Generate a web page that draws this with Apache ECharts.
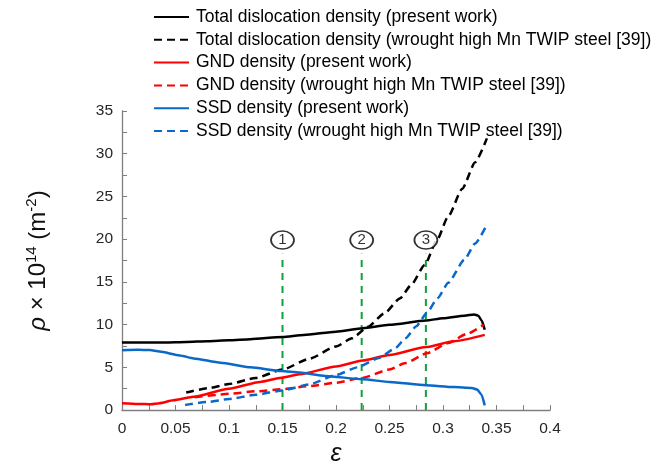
<!DOCTYPE html>
<html>
<head>
<meta charset="utf-8">
<title>Dislocation density vs strain</title>
<script src="https://cdn.jsdelivr.net/npm/echarts@6/dist/echarts.min.js"></script>
<style>
  html, body { margin: 0; padding: 0; background: #fff; }
  #chart { width: 654px; height: 472px; }
</style>
</head>
<body>
<div id="chart"></div>
<script>
// Strain (ε) vs dislocation density (ρ × 10^14 m^-2), pairs of [strain, density]
const totalPresent = [
  [0, 7.9], [0.02, 7.9], [0.04, 7.92], [0.06, 7.98], [0.08, 8.06], [0.1, 8.17],
  [0.12, 8.3], [0.15, 8.55], [0.17, 8.78], [0.2, 9.18], [0.225, 9.58], [0.25, 9.98],
  [0.284, 10.48], [0.3, 10.75], [0.32, 11.05], [0.329, 11.2], [0.333, 11.05],
  [0.336, 10.5], [0.339, 9.4]
];
const totalWrought = [
  [0.06, 2.05], [0.08, 2.55], [0.1, 3.05], [0.125, 3.75], [0.15, 4.75], [0.175, 6.0],
  [0.2, 7.45], [0.215, 8.4], [0.23, 9.75], [0.245, 11.3], [0.26, 13.1], [0.27, 14.6],
  [0.283, 17.0], [0.294, 19.8], [0.305, 22.7], [0.318, 25.9], [0.33, 29.0], [0.341, 31.8]
];
const gndPresent = [
  [0, 0.8], [0.015, 0.72], [0.027, 0.68], [0.035, 0.8], [0.048, 1.15], [0.067, 1.55],
  [0.1, 2.5], [0.129, 3.3], [0.149, 3.8], [0.166, 4.2], [0.2, 5.1], [0.225, 5.8],
  [0.25, 6.45], [0.284, 7.37], [0.31, 8.05], [0.339, 8.8]
];
const gndWrought = [
  [0.068, 1.5], [0.1, 1.9], [0.125, 2.2], [0.15, 2.45], [0.175, 2.8], [0.2, 3.2],
  [0.225, 3.8], [0.25, 4.75], [0.265, 5.5], [0.285, 6.65], [0.305, 7.85], [0.322, 8.9],
  [0.338, 10.0]
];
const ssdPresent = [
  [0, 7.0], [0.015, 7.05], [0.026, 7.02], [0.035, 6.85], [0.054, 6.4], [0.067, 6.05],
  [0.092, 5.55], [0.12, 5.0], [0.149, 4.57], [0.166, 4.4], [0.19, 4.0], [0.225, 3.6],
  [0.25, 3.3], [0.284, 2.9], [0.31, 2.7], [0.327, 2.6], [0.332, 2.4], [0.336, 1.8],
  [0.339, 0.55]
];
const ssdWrought = [
  [0.059, 0.6], [0.08, 0.95], [0.1, 1.3], [0.125, 1.8], [0.15, 2.3], [0.175, 3.0],
  [0.2, 4.1], [0.22, 5.0], [0.24, 6.1], [0.255, 7.2], [0.265, 8.4], [0.275, 9.8],
  [0.285, 11.4], [0.295, 13.1], [0.305, 14.9], [0.32, 17.6], [0.33, 19.5], [0.341, 21.7]
];

// Deformation stages marked by vertical guide lines
const stageStrain = [0.15, 0.224, 0.284];
const stageLabels = ['1', '2', '3'];
const stageLineTop = 18.3;
const stageBadgeY = 19.9;

const seriesNames = [
  'Total dislocation density (present work)',
  'Total dislocation density (wrought high Mn TWIP steel [39])',
  'GND density (present work)',
  'GND density (wrought high Mn TWIP steel [39])',
  'SSD density (present work)',
  'SSD density (wrought high Mn TWIP steel [39])'
];

const FONT = 'Liberation Sans, Arial, sans-serif';
const BLACK = '#000000', RED = '#ff0000', BLUE = '#0a68c8', GREEN = '#13a03a';
const DASH = [8, 5];

function curve(name, data, color, dashed) {
  return {
    name, type: 'line', data,
    showSymbol: false, symbol: 'none',
    smooth: 0.2, smoothMonotone: 'x',
    lineStyle: { color, width: 2.5, type: dashed ? DASH : 'solid', cap: 'butt' },
    itemStyle: { color },
    emphasis: { disabled: true },
    z: 3
  };
}

const series = [
  curve(seriesNames[0], totalPresent, BLACK, false),
  curve(seriesNames[1], totalWrought, BLACK, true),
  curve(seriesNames[2], gndPresent, RED, false),
  curve(seriesNames[3], gndWrought, RED, true),
  curve(seriesNames[4], ssdPresent, BLUE, false),
  curve(seriesNames[5], ssdWrought, BLUE, true)
];

stageStrain.forEach((s, i) => {
  series.push({
    name: 'stage' + (i + 1), type: 'line',
    data: [[s, 0], [s, stageLineTop]],
    showSymbol: false, symbol: 'none',
    lineStyle: { color: GREEN, width: 2, type: [7, 6] },
    emphasis: { disabled: true },
    z: 2
  });
});

series.push({
  name: 'stageBadges', type: 'scatter',
  data: stageStrain.map((s, i) => ({ value: [s, stageBadgeY], label: { formatter: stageLabels[i] } })),
  symbol: 'circle', symbolSize: [23, 18],
  itemStyle: { color: '#ffffff', borderColor: '#000000', borderWidth: 1.6 },
  label: { show: true, position: 'inside', color: '#000', fontSize: 15, fontFamily: FONT },
  emphasis: { disabled: true },
  z: 5
});

const chart = echarts.init(document.getElementById('chart'), null, { renderer: 'canvas' });
chart.setOption({
  animation: false,
  backgroundColor: '#ffffff',
  grid: { left: 122, right: 104, top: 111, bottom: 61, containLabel: false },
  legend: {
    data: seriesNames,
    orient: 'vertical',
    left: 153, top: 8, padding: 0,
    itemWidth: 35, itemHeight: 14, itemGap: 4.8,
    selectedMode: false,
    itemStyle: { opacity: 0 },
    textStyle: { fontSize: 17.5, fontFamily: FONT, color: '#000', padding: [0, 0, 0, 2] }
  },
  xAxis: {
    type: 'value', min: 0, max: 0.4, interval: 0.05,
    name: 'ε', nameLocation: 'middle', nameGap: 31,
    nameTextStyle: { fontSize: 25, fontStyle: 'italic', fontFamily: FONT, color: '#111' },
    axisLine: { lineStyle: { color: '#7f7f7f', width: 1.3 } },
    axisTick: { inside: true, length: 5, lineStyle: { color: '#7f7f7f' } },
    minorTick: { show: true, splitNumber: 2, length: 5, lineStyle: { color: '#7f7f7f' } },
    splitLine: { show: false },
    axisLabel: {
      margin: 11, fontSize: 15.5, fontFamily: FONT, color: '#262626',
      formatter: v => String(+v.toFixed(3))
    }
  },
  yAxis: {
    type: 'value', min: 0, max: 35, interval: 5,
    name: '{r|ρ}{t| × 10}{s|14}{t| (m}{s|-2}{t|)}',
    nameLocation: 'middle', nameRotate: 90, nameGap: 70,
    nameTextStyle: {
      fontFamily: FONT, color: '#111',
      rich: {
        r: { fontSize: 24, fontStyle: 'italic', fontFamily: FONT, color: '#111' },
        t: { fontSize: 24, fontFamily: FONT, color: '#111' },
        s: { fontSize: 15, fontFamily: FONT, color: '#111', padding: [0, 0, 13, 0] }
      }
    },
    axisLine: { show: true, lineStyle: { color: '#7f7f7f', width: 1.3 } },
    axisTick: { show: true, inside: true, length: 5, lineStyle: { color: '#7f7f7f' } },
    minorTick: { show: true, splitNumber: 2, length: 5, lineStyle: { color: '#7f7f7f' } },
    splitLine: { show: false },
    axisLabel: { margin: 9, fontSize: 15.5, fontFamily: FONT, color: '#262626' }
  },
  series
});
</script>
</body>
</html>
